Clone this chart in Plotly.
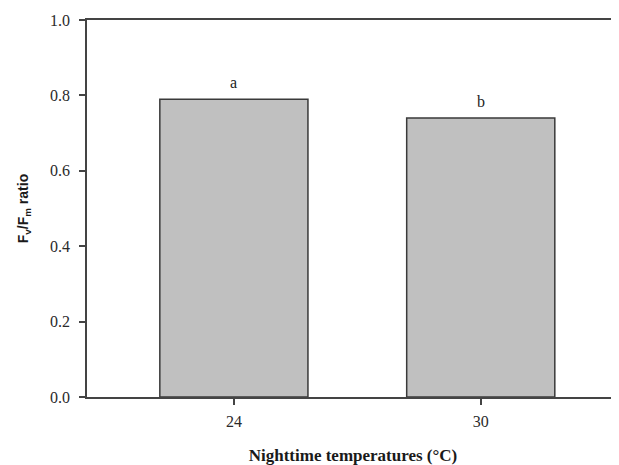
import plotly.graph_objects as go

categories = ["24", "30"]
fvfm = [0.790, 0.740]
letters = ["a", "b"]
y_ticks = [0.0, 0.2, 0.4, 0.6, 0.8, 1.0]

serif = "Liberation Serif, Times New Roman, serif"
sans = "Liberation Sans, Arial, sans-serif"

fig = go.Figure()
fig.add_trace(go.Bar(
    x=categories, y=fvfm, width=0.6,
    marker=dict(color="#c0c0c0", line=dict(color="#3a3a3a", width=1.5)),
    showlegend=False, hoverinfo="skip",
))

for i, (v, t) in enumerate(zip(fvfm, letters)):
    fig.add_annotation(x=i, y=v, xref="x", yref="y", text=t, showarrow=False,
                       yanchor="bottom", yshift=6,
                       font=dict(family=serif, size=16, color="#222"))

# page body has an 8px margin; compensate in the figure size/margins
fig.update_layout(
    width=611, height=457,
    margin=dict(l=79, r=0, t=12, b=68),
    plot_bgcolor="white", paper_bgcolor="white",
)
fig.update_xaxes(
    type="category", range=[-0.595, 1.56],
    showline=True, linecolor="#444", linewidth=1.5, mirror=True,
    ticks="outside", ticklen=6, tickcolor="#444", tickwidth=1.5,
    tickfont=dict(family=serif, size=16, color="#2a2a2a"),
    ticklabelstandoff=3,
    showgrid=False, zeroline=False,
    title=dict(text="<b>Nighttime temperatures (°C)</b>",
               font=dict(family=serif, size=17, color="#1a1a1a"), standoff=21),
)
fig.update_yaxes(
    range=[0, 1.0], tickvals=y_ticks, ticktext=[f"{v:.1f}" for v in y_ticks],
    showline=True, linecolor="#444", linewidth=1.5,
    ticks="outside", ticklen=6, tickcolor="#444", tickwidth=1.5,
    tickfont=dict(family=serif, size=16, color="#2a2a2a"),
    ticklabelstandoff=6,
    showgrid=False, zeroline=False,
    title=dict(text="<b>F<sub>v</sub>/F<sub>m</sub> ratio</b>",
               font=dict(family=sans, size=14, color="#1a1a1a"), standoff=18),
)

fig.write_html("out.html")
